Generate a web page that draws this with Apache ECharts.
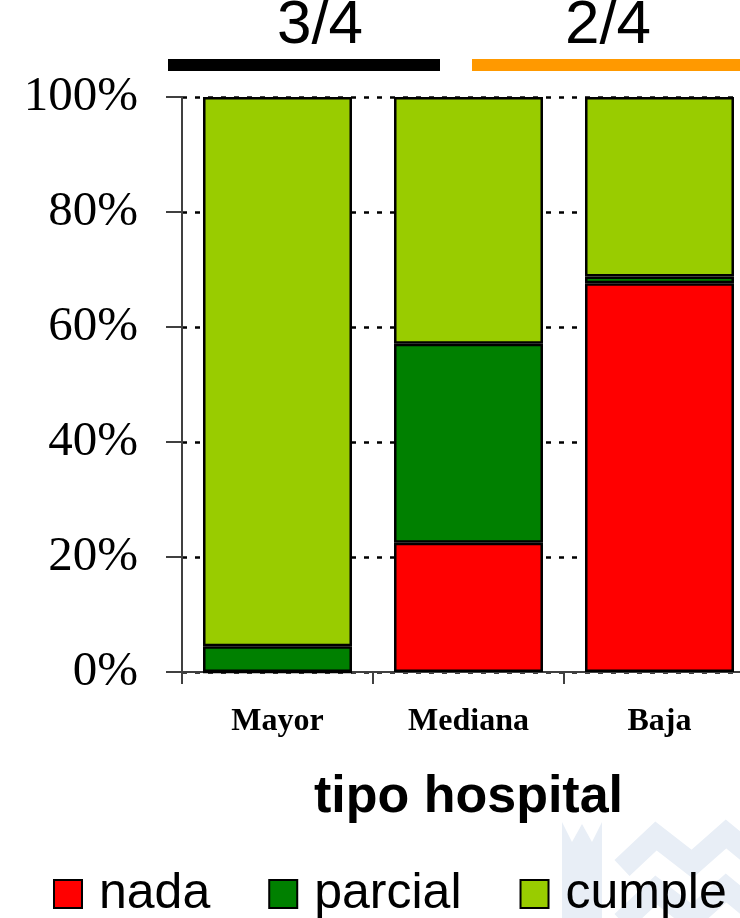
<!DOCTYPE html>
<html>
<head>
<meta charset="utf-8">
<script src="https://cdn.jsdelivr.net/npm/echarts@6/dist/echarts.min.js"></script>
<style>
  html, body { margin: 0; padding: 0; background: #ffffff; }
  #chart { width: 740px; height: 918px; }
</style>
</head>
<body>
<div id="chart"></div>
<script>
// Hospital categories and share (%) of each compliance level
const categories = ['Mayor', 'Mediana', 'Baja'];
const nada = [0, 22.5, 67.6];
const parcial = [4.5, 34.6, 1.2];
const cumple = [95.5, 42.9, 31.2];
const yTicks = [0, 20, 40, 60, 80, 100];
const groupLabels = ['3/4', '2/4'];

const SANS = '"Liberation Sans", Arial, sans-serif';
const SERIF = '"Liberation Serif", "Times New Roman", serif';

const chart = echarts.init(document.getElementById('chart'), null, { renderer: 'canvas' });

function barSeries(name, data, color) {
  return {
    name: name,
    type: 'bar',
    stack: 'total',
    data: data,
    barWidth: '78%',
    itemStyle: { color: color, borderColor: '#000', borderWidth: 2.5 },
    emphasis: { disabled: true }
  };
}

chart.setOption({
  animation: false,
  backgroundColor: '#ffffff',
  grid: { left: 182, top: 97, width: 573, height: 575, containLabel: false, outerBoundsMode: 'none' },
  xAxis: {
    type: 'category',
    data: categories,
    boundaryGap: true,
    axisLine: { show: true, lineStyle: { color: '#404040', width: 2 } },
    axisTick: { show: true, length: 12, interval: 0, alignWithLabel: false, lineStyle: { color: '#404040', width: 2 } },
    axisLabel: { interval: 0, margin: 34, color: '#000', fontFamily: SERIF, fontWeight: 'bold', fontSize: 32 },
    name: 'tipo hospital',
    nameLocation: 'middle',
    nameGap: 100,
    nameTextStyle: { color: '#000', fontFamily: SANS, fontWeight: 'bold', fontSize: 52 }
  },
  yAxis: {
    type: 'value',
    min: yTicks[0],
    max: yTicks[yTicks.length - 1],
    interval: 20,
    axisLine: { show: true, lineStyle: { color: '#404040', width: 2 } },
    axisTick: { show: true, length: 16, lineStyle: { color: '#404040', width: 2 } },
    axisLabel: { formatter: '{value}%', margin: 44, color: '#000', fontFamily: SERIF, fontSize: 49 },
    splitLine: { show: true, lineStyle: { color: '#000', width: 2.5, type: [5, 8] } }
  },
  legend: {
    left: 48,
    top: 864,
    width: 800,
    icon: 'rect',
    itemWidth: 28,
    itemHeight: 28,
    itemGap: 58,
    selectedMode: false,
    textStyle: { color: '#000', fontFamily: SANS, fontSize: 50, padding: [0, 0, 0, 12] },
    data: ['nada', 'parcial', 'cumple']
  },
  series: [
    barSeries('nada', nada, '#ff0000'),
    barSeries('parcial', parcial, '#008000'),
    barSeries('cumple', cumple, '#99cc00')
  ],
  graphic: [
    // faint logo in the lower right corner
    {
      type: 'group', z: -10, silent: true,
      children: [
        { type: 'polygon', shape: { points: [[562, 918], [562, 822], [572, 842], [582, 824], [592, 842], [602, 822], [602, 918]] },
          style: { fill: '#e8eef6' } },
        { type: 'polyline', shape: { points: [[622, 868], [656, 836], [692, 864], [726, 834], [760, 862]] },
          style: { stroke: '#e8eef6', lineWidth: 22, fill: null, lineJoin: 'miter' } },
        { type: 'polyline', shape: { points: [[622, 922], [656, 890], [692, 918], [726, 888], [760, 916]] },
          style: { stroke: '#e8eef6', lineWidth: 22, fill: null, lineJoin: 'miter' } }
      ]
    },
    // group markers above the bars
    { type: 'rect', shape: { x: 168, y: 59, width: 272, height: 12 }, style: { fill: '#000' } },
    { type: 'rect', shape: { x: 472, y: 59, width: 280, height: 12 }, style: { fill: '#ff9900' } },
    { type: 'text', x: 320, y: 57,
      style: { text: groupLabels[0], fill: '#000', font: '62px ' + SANS, textAlign: 'center', textVerticalAlign: 'bottom' } },
    { type: 'text', x: 608, y: 57,
      style: { text: groupLabels[1], fill: '#000', font: '62px ' + SANS, textAlign: 'center', textVerticalAlign: 'bottom' } }
  ]
});
</script>
</body>
</html>
